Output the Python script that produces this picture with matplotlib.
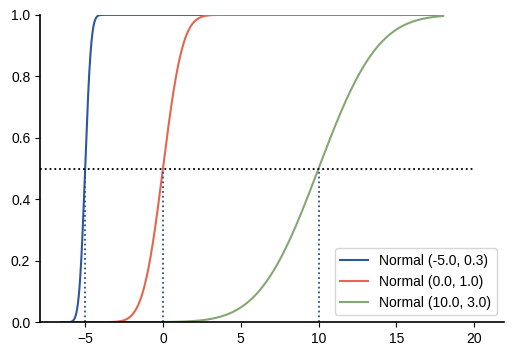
import math
import numpy as np
import matplotlib
matplotlib.use("Agg")
import matplotlib.pyplot as plt

plt.rcParams['font.family'] = ['Liberation Sans', 'DejaVu Sans']

# Distribution parameters (mean, std) shown in the legend
means = [-5.0, 0.0, 10.0]
stds = [0.3, 1.0, 3.0]
colors = ['#2f57a0', '#e5664f', '#84a874']
x_start = -6.5
x_end = 18.0


def normal_cdf(x, mu, sigma):
    return np.array([0.5 * (1 + math.erf((v - mu) / (sigma * math.sqrt(2)))) for v in x])


fig = plt.figure(figsize=(5.13, 3.54), dpi=100)
ax = fig.add_axes([0.078, 0.090, 0.904, 0.868])

x = np.linspace(x_start, x_end, 1000)
for mu, sd, c in zip(means, stds, colors):
    ax.plot(x, normal_cdf(x, mu, sd), color=c, lw=1.5, label=f'Normal ({mu}, {sd})')

# median markers
ax.hlines(0.5, -7.9, 20, colors='black', linestyles=':', lw=1.3)
for mu in means:
    ax.vlines(mu, 0, 0.5, colors='#2a4d92', linestyles=':', lw=1.3)

ax.set_xlim(-7.9, 21.9)
ax.set_ylim(0, 1)
ax.set_xticks([-5, 0, 5, 10, 15, 20])
ax.set_xticklabels(['\u22125', '0', '5', '10', '15', '20'])
ax.set_yticks([0, 0.2, 0.4, 0.6, 0.8, 1.0])
for s in ['left', 'bottom']:
    ax.spines[s].set_linewidth(1.2)
ax.spines['top'].set_visible(False)
ax.spines['right'].set_visible(False)
ax.tick_params(labelsize=10)
ax.legend(loc='lower right', fontsize=10)

fig.savefig('out.png', dpi=100)
